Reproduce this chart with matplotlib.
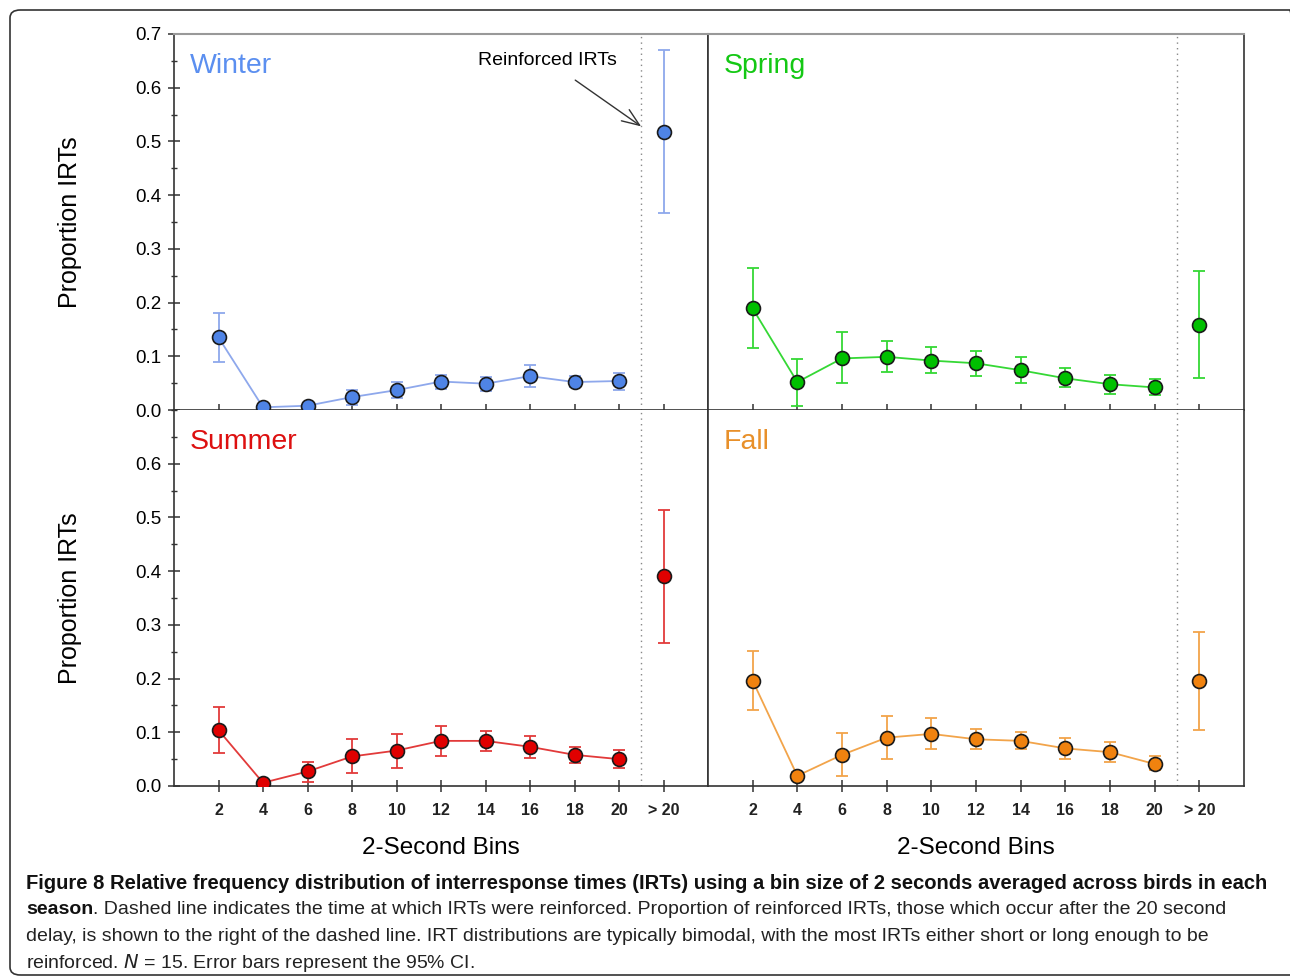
import matplotlib.pyplot as plt
from matplotlib.patches import FancyBboxPatch

# ---------------------------
# Data: proportion of IRTs per 2-second bin, with 95% CI bounds
# ---------------------------
bin_labels = ["2", "4", "6", "8", "10", "12", "14", "16", "18", "20", "> 20"]

winter_mean = [0.135, 0.005, 0.008, 0.024, 0.037, 0.053, 0.049, 0.063, 0.052, 0.054, 0.518]
winter_low = [0.090, 0.002, 0.004, 0.009, 0.022, 0.040, 0.035, 0.043, 0.042, 0.038, 0.366]
winter_high = [0.181, 0.008, 0.012, 0.037, 0.053, 0.066, 0.062, 0.083, 0.063, 0.069, 0.670]

spring_mean = [0.189, 0.052, 0.096, 0.099, 0.092, 0.087, 0.074, 0.059, 0.048, 0.042, 0.158]
spring_low = [0.115, 0.007, 0.050, 0.070, 0.068, 0.064, 0.051, 0.042, 0.030, 0.027, 0.060]
spring_high = [0.264, 0.095, 0.145, 0.128, 0.117, 0.110, 0.098, 0.078, 0.066, 0.057, 0.258]

summer_mean = [0.104, 0.006, 0.027, 0.055, 0.066, 0.084, 0.084, 0.073, 0.058, 0.050, 0.391]
summer_low = [0.061, 0.002, 0.008, 0.024, 0.034, 0.056, 0.066, 0.053, 0.042, 0.033, 0.267]
summer_high = [0.148, 0.010, 0.045, 0.087, 0.097, 0.112, 0.102, 0.093, 0.072, 0.067, 0.514]

fall_mean = [0.196, 0.019, 0.058, 0.090, 0.097, 0.087, 0.084, 0.070, 0.063, 0.041, 0.196]
fall_low = [0.141, 0.012, 0.019, 0.050, 0.068, 0.068, 0.068, 0.050, 0.045, 0.029, 0.104]
fall_high = [0.251, 0.026, 0.098, 0.130, 0.126, 0.106, 0.101, 0.089, 0.082, 0.055, 0.286]

seasons = ["Winter", "Spring", "Summer", "Fall"]
marker_colors = ["#4f84e6", "#00c000", "#e00000", "#f0820f"]
line_colors = ["#8ea8ec", "#35d835", "#e23a3a", "#f2a44a"]
label_colors = ["#5b8ff0", "#14c814", "#dd1010", "#e8902a"]

caption_bold = ("Figure 8 Relative frequency distribution of interresponse times (IRTs) "
                "using a bin size of 2 seconds averaged across birds in each")
caption_lines = [
    ". Dashed line indicates the time at which IRTs were reinforced. Proportion of reinforced IRTs, "
    "those which occur after the 20 second",
    "delay, is shown to the right of the dashed line. IRT distributions are typically bimodal, "
    "with the most IRTs either short or long enough to be",
    "reinforced. $\\it{N}$ = 15. Error bars represent the 95% CI.",
]

plt.rcParams["font.family"] = ["Liberation Sans", "DejaVu Sans"]

W, H = 1290, 980
fig = plt.figure(figsize=(W / 100, H / 100), dpi=100)

# outer rounded frame
fig.add_artist(FancyBboxPatch((10 / W, 5 / H), 1290 / W, 965 / H,
                              boxstyle="round,pad=0,rounding_size=0.008",
                              transform=fig.transFigure, fill=False,
                              edgecolor="#333333", linewidth=1.2))

left, mid_x, right = 174 / W, 708 / W, 1244 / W
top, mid_y, bottom = 1 - 34 / H, 1 - 410 / H, 1 - 786 / H

x = list(range(1, len(bin_labels) + 1))
series = [
    (winter_mean, winter_low, winter_high),
    (spring_mean, spring_low, spring_high),
    (summer_mean, summer_low, summer_high),
    (fall_mean, fall_low, fall_high),
]
boxes = [
    (left, mid_y, mid_x - left, top - mid_y),
    (mid_x, mid_y, right - mid_x, top - mid_y),
    (left, bottom, mid_x - left, mid_y - bottom),
    (mid_x, bottom, right - mid_x, mid_y - bottom),
]

axes = []
for i, (box, (mean, low, high)) in enumerate(zip(boxes, series)):
    ax = fig.add_axes(box)
    axes.append(ax)
    yerr = [[m - lo for m, lo in zip(mean, low)], [hi - m for m, hi in zip(mean, high)]]

    # bins 2..20 joined by a line, the reinforced bin stands alone
    ax.plot(x[:-1], mean[:-1], color=line_colors[i], linewidth=1.3, zorder=2)
    ax.errorbar(x, mean, yerr=yerr, fmt="none", ecolor=line_colors[i],
                elinewidth=1.3, capsize=4.5, capthick=1.3, zorder=2)
    ax.plot(x, mean, "o", markersize=10, markerfacecolor=marker_colors[i],
            markeredgecolor="#1a1a1a", markeredgewidth=1.2, linestyle="none", zorder=3)

    ax.axvline(10.5, color="#888888", linestyle=(0, (1, 3)), linewidth=1.0, zorder=1)

    ax.set_xlim(0, 12)
    ax.set_ylim(0, 0.7)
    ax.set_xticks(x)
    ax.text(0.03, 0.915, seasons[i], transform=ax.transAxes, fontsize=20.5,
            color=label_colors[i], ha="left", va="center")

    for side in ["left", "bottom", "right"]:
        ax.spines[side].set_color("#333333")
        ax.spines[side].set_linewidth(1.2)
    ax.spines["top"].set_color("#999999")
    ax.spines["top"].set_linewidth(1.5)

    ax.tick_params(axis="x", direction="inout", length=8, width=1.1, color="#333333")
    if i in (0, 2):
        n_major = 8 if i == 0 else 7
        ax.set_yticks([k / 20 for k in range(15)], minor=True)
        ax.set_yticks([k / 10 for k in range(n_major)])
        ax.set_yticklabels([f"{k / 10:.1f}" for k in range(n_major)])
        ax.tick_params(axis="y", which="major", direction="inout", length=8, width=1.1,
                       color="#333333", labelsize=13.5, pad=5)
        ax.tick_params(axis="y", which="minor", direction="inout", length=5, width=1.0,
                       color="#333333")
        ax.set_ylabel("Proportion IRTs", fontsize=18, labelpad=38)
    else:
        ax.set_yticks([])

    if i in (2, 3):
        ax.set_xticklabels(bin_labels, fontsize=11.5, fontweight="bold", color="#222222")
        ax.tick_params(axis="x", pad=8)
        ax.set_xlabel("2-Second Bins", fontsize=17.5, labelpad=14)
        ax.spines["top"].set_visible(False)
    else:
        ax.set_xticklabels([])

axes[0].annotate("Reinforced IRTs", xy=(10.55, 0.525), xytext=(8.4, 0.650),
                 fontsize=14, ha="center", va="center",
                 arrowprops=dict(arrowstyle="->,head_length=0.9,head_width=0.35",
                                 color="#333333", lw=1.0, shrinkA=10, shrinkB=2))

# caption
cap = fig.add_axes([0, 0, 1, 1])
cap.axis("off")
cap_font = ["Liberation Sans", "DejaVu Sans"]
cap.text(26 / W, 1 - 883 / H, caption_bold, fontsize=14.5, fontweight="bold",
         family=cap_font, ha="left", va="center", color="#111111")
bold2 = cap.text(26 / W, 1 - 909 / H, "season", fontsize=14, fontweight="bold",
                 family=cap_font, ha="left", va="center", color="#111111")
cap.annotate(caption_lines[0], xy=(1, 0), xycoords=bold2, ha="left", va="bottom",
             fontsize=14, family=cap_font, color="#222222")
for k, line in enumerate(caption_lines[1:]):
    cap.text(26 / W, 1 - (936 + 26.5 * k) / H, line, fontsize=14, family=cap_font,
             ha="left", va="center", color="#222222")

fig.savefig("out.png", dpi=100)
